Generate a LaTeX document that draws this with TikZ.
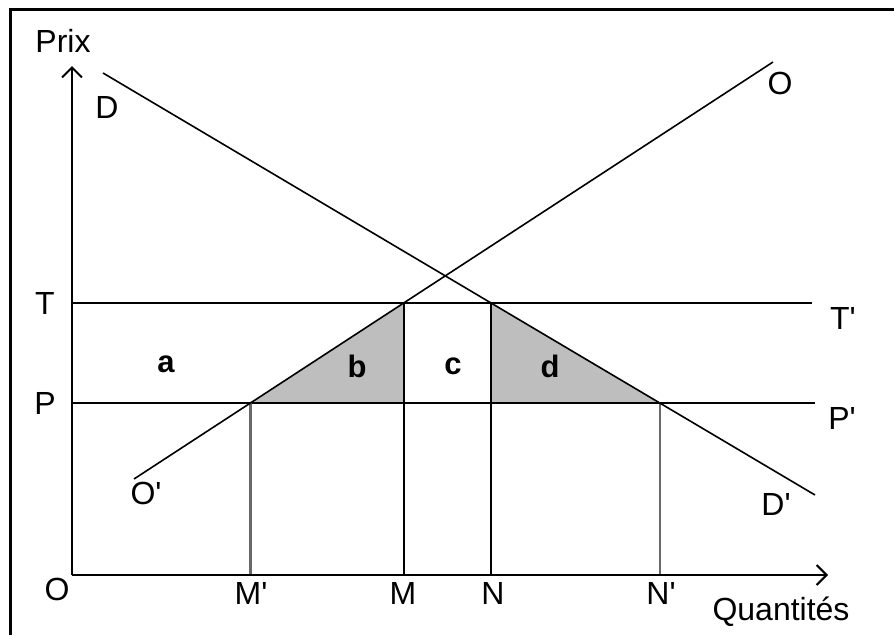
\documentclass[tikz,border=0pt]{standalone}
\usepackage{fontspec}
\setmainfont{Liberation Sans}
\usetikzlibrary{arrows.meta}
\definecolor{shadegray}{RGB}{190,190,190}
\definecolor{vgraycol}{RGB}{105,105,105}
\newcommand{\apo}{\textquotesingle}
\begin{document}
\begin{tikzpicture}[x=1pt,y=-1pt,
  lbl/.style={font=\fontsize{32}{36}\selectfont, inner sep=0pt},
  area/.style={font=\fontsize{31}{36}\selectfont\bfseries, inner sep=0pt},
  axis/.style={line width=2pt, -{Straight Barb[length=10pt,width=20pt,line width=2pt]}},
  hline/.style={line width=2pt},
  curve/.style={line width=1.6pt},
  vblack/.style={line width=2pt},
  vgray/.style={line width=2.6pt, draw=vgraycol},
  frameline/.style={line width=3pt}]
\useasboundingbox (0,0) rectangle (894,635);
% frame (top and left)
\coordinate (fTL) at (10,9);
\coordinate (fTR) at (894,9);
\coordinate (fBL) at (10,635);
\draw[frameline] (fTR) -- (fTL) -- (fBL);
% key coordinates
\coordinate (orig) at (72,575);
\coordinate (ytip) at (72,66);
\coordinate (xtip) at (828,575);
\coordinate (T0) at (72,303); \coordinate (T1) at (812,303);
\coordinate (P0) at (72,403); \coordinate (P1) at (815,403);
\coordinate (D0) at (103,73); \coordinate (D1) at (815,495);
\coordinate (S0) at (134,479); \coordinate (S1) at (773,62);
\coordinate (Mp) at (intersection of S0--S1 and P0--P1);
\coordinate (M) at (intersection of S0--S1 and T0--T1);
\coordinate (N) at (intersection of D0--D1 and T0--T1);
\coordinate (Np) at (intersection of D0--D1 and P0--P1);
\coordinate (MP) at (M |- P0);
\coordinate (NP) at (N |- P0);
\coordinate (Mpb) at (Mp |- orig);
\coordinate (Mb) at (M |- orig);
\coordinate (Nb) at (N |- orig);
\coordinate (Npb) at (Np |- orig);
% shaded triangles
\fill[shadegray] (Mp) -- (M) -- (MP) -- cycle;
\fill[shadegray] (N) -- (Np) -- (NP) -- cycle;
% horizontal lines
\draw[hline] (T0) -- (T1);
\draw[hline] (P0) -- (P1);
% verticals
\draw[vgray] (Mp) -- (Mpb);
\draw[vgray] (Np) -- (Npb);
\draw[vblack] (M) -- (Mb);
\draw[vblack] (N) -- (Nb);
% curves
\draw[curve] (D0) -- (D1);
\draw[curve] (S0) -- (S1);
% axes
\draw[axis] (orig) -- (ytip);
\draw[axis] (orig) -- (xtip);
% labels
\node[lbl] (prix) at (63,41) {Prix};
\node[lbl] (lD) at (107,107) {D};
\node[lbl] (lO) at (780,83) {O};
\node[lbl] (lT) at (45,303) {T};
\node[lbl] (lP) at (45,403) {P};
\node[lbl] (lTp) at (843,318) {T\apo};
\node[lbl] (lPp) at (842,418) {P\apo};
\node[lbl] (lOp) at (146,493) {O\apo};
\node[lbl] (lDp) at (776,504) {D\apo};
\node[lbl] (lOo) at (57,589) {O};
\node[lbl] (lMp) at (251,593) {M\apo};
\node[lbl] (lM) at (403,593) {M};
\node[lbl] (lN) at (493,593) {N};
\node[lbl] (lNp) at (661,593) {N\apo};
\node[lbl] (qty) at (781,612) {Quantités};
\node[area] (la) at (166,364) {a};
\node[area] (lb) at (357,366) {b};
\node[area] (lc) at (453,366) {c};
\node[area] (ld) at (550,366) {d};
\end{tikzpicture}
\end{document}
